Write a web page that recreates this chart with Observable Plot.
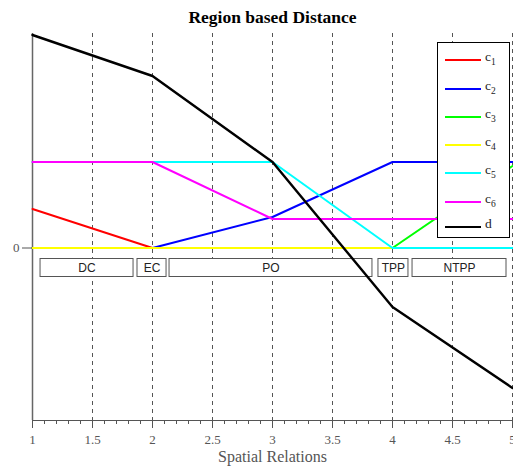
<!DOCTYPE html>
<html>
<head>
<meta charset="utf-8">
<script src="https://cdn.jsdelivr.net/npm/d3@7"></script>
<script src="https://cdn.jsdelivr.net/npm/@observablehq/plot@0.6"></script>
<style>
  body { margin: 0; background: #fff; }
  #wrap { position: relative; width: 513px; height: 466px; overflow: hidden; }
  #legend { position: absolute; left: 437px; top: 42px; width: 73px; height: 196px;
            border: 1.5px solid #000; background: #fff; box-sizing: border-box;
            font-family: "Liberation Serif", serif; }
  .item { position: absolute; left: 0; width: 72px; height: 20px; }
  .sw { position: absolute; left: 7px; top: 9px; width: 36px; height: 0; border-top: 2px solid; }
  .lab { position: absolute; left: 47px; top: 0px; font-size: 13.5px; color: #222; line-height: 14px; }
  .lab sub { font-size: 9.5px; vertical-align: -4px; }
</style>
</head>
<body>
<div id="wrap"><div id="chart"></div><div id="legend"></div></div>
<script>
const xs = [1, 2, 3, 4, 5];
const seriesNames = ["c1", "c2", "c3", "c4", "c5", "c6", "d"];
const c1 = [0.39, 0, 0, 0, 0];
const c2 = [0, 0, 0.31, 0.86, 0.86];
const c3 = [0, 0, 0, 0, 0.82];
const c4 = [0, 0, 0, 0, 0];
const c5 = [0.86, 0.86, 0.86, 0, 0];
const c6 = [0.86, 0.86, 0.29, 0.29, 0.29];
const dd = [2.13, 1.72, 0.86, -0.59, -1.40];
const colors = ["#ff0000", "#0000ff", "#00ff00", "#ffff00", "#00ffff", "#ff00ff", "#000000"];
const relNames = ["DC", "EC", "PO", "TPP", "NTPP"];
const relStart = [1.067, 1.875, 2.142, 3.883, 4.167];
const relEnd = [1.842, 2.117, 3.833, 4.133, 4.95];
const xTicks = [1, 1.5, 2, 2.5, 3, 3.5, 4, 4.5, 5];
const yTicks = [0];

const allSeries = [c1, c2, c3, c4, c5, c6, dd];
const rows = [];
allSeries.forEach((arr, i) => arr.forEach((v, j) => rows.push({series: seriesNames[i], x: xs[j], y: v})));
const rels = relNames.map((n, i) => ({name: n, x1: relStart[i], x2: relEnd[i], y1: -0.11, y2: -0.29}));

const serif = "Liberation Serif, Times New Roman, serif";

const chart = Plot.plot({
  width: 513,
  height: 466,
  marginLeft: 32,
  marginRight: 1,
  marginTop: 33,
  marginBottom: 46,
  style: {fontFamily: serif, background: "#fff", overflow: "visible"},
  x: {domain: [1, 5]},
  y: {domain: [-1.725, 2.145]},
  color: {domain: seriesNames, range: colors},
  marks: [
    Plot.ruleX(xTicks.slice(1), {stroke: "#555", strokeWidth: 1, strokeDasharray: "4,4"}),
    Plot.ruleX([1], {stroke: "#666", strokeWidth: 1.5}),
    Plot.rect(rels, {x1: "x1", x2: "x2", y1: "y1", y2: "y2", fill: "#fff", stroke: "#555", strokeWidth: 1}),
    Plot.text(rels, {x: d => (d.x1 + d.x2) / 2, y: d => (d.y1 + d.y2) / 2, text: "name",
      fontFamily: "Liberation Sans, Arial, sans-serif", fontSize: 12, fill: "#222"}),
    ...seriesNames.map((s, i) => Plot.line(rows.filter(r => r.series === s), {
      x: "x", y: "y", stroke: colors[i], strokeWidth: s === "d" ? 2.4 : 2
    })),
    Plot.axisX({ticks: d3.range(1, 5.001, 0.1), tickSize: 4, text: null, stroke: "#555"}),
    Plot.axisX({ticks: xTicks, tickSize: 8, tickPadding: 6, tickFormat: d => String(d),
      fontSize: 13, fill: "#555", stroke: "#555", label: null}),
    Plot.ruleY([-1.725], {stroke: "#555", strokeWidth: 1.2}),
    Plot.axisY({ticks: yTicks, tickSize: 10, tickPadding: 3, tickFormat: d => String(d),
      fontSize: 13, fill: "#555", stroke: "#555", label: null}),
    Plot.text(["Region based Distance"], {frameAnchor: "top", dy: -16, lineAnchor: "middle",
      fontSize: 17.5, fontWeight: "bold", fill: "#000", fontFamily: serif}),
    Plot.text(["Spatial Relations"], {frameAnchor: "bottom", dy: 36, lineAnchor: "middle",
      fontSize: 16, fill: "#555", fontFamily: serif})
  ]
});
document.getElementById("chart").appendChild(chart);

const legend = d3.select("#legend");
const tops = [7, 35.5, 63.5, 92, 120, 148.5, 174];
seriesNames.forEach((s, i) => {
  const it = legend.append("div").attr("class", "item").style("top", tops[i] + "px");
  it.append("div").attr("class", "sw").style("border-color", colors[i]);
  const lab = it.append("div").attr("class", "lab");
  if (s === "d") lab.text("d");
  else lab.html("c<sub>" + s.slice(1) + "</sub>");
});
</script>
</body>
</html>
